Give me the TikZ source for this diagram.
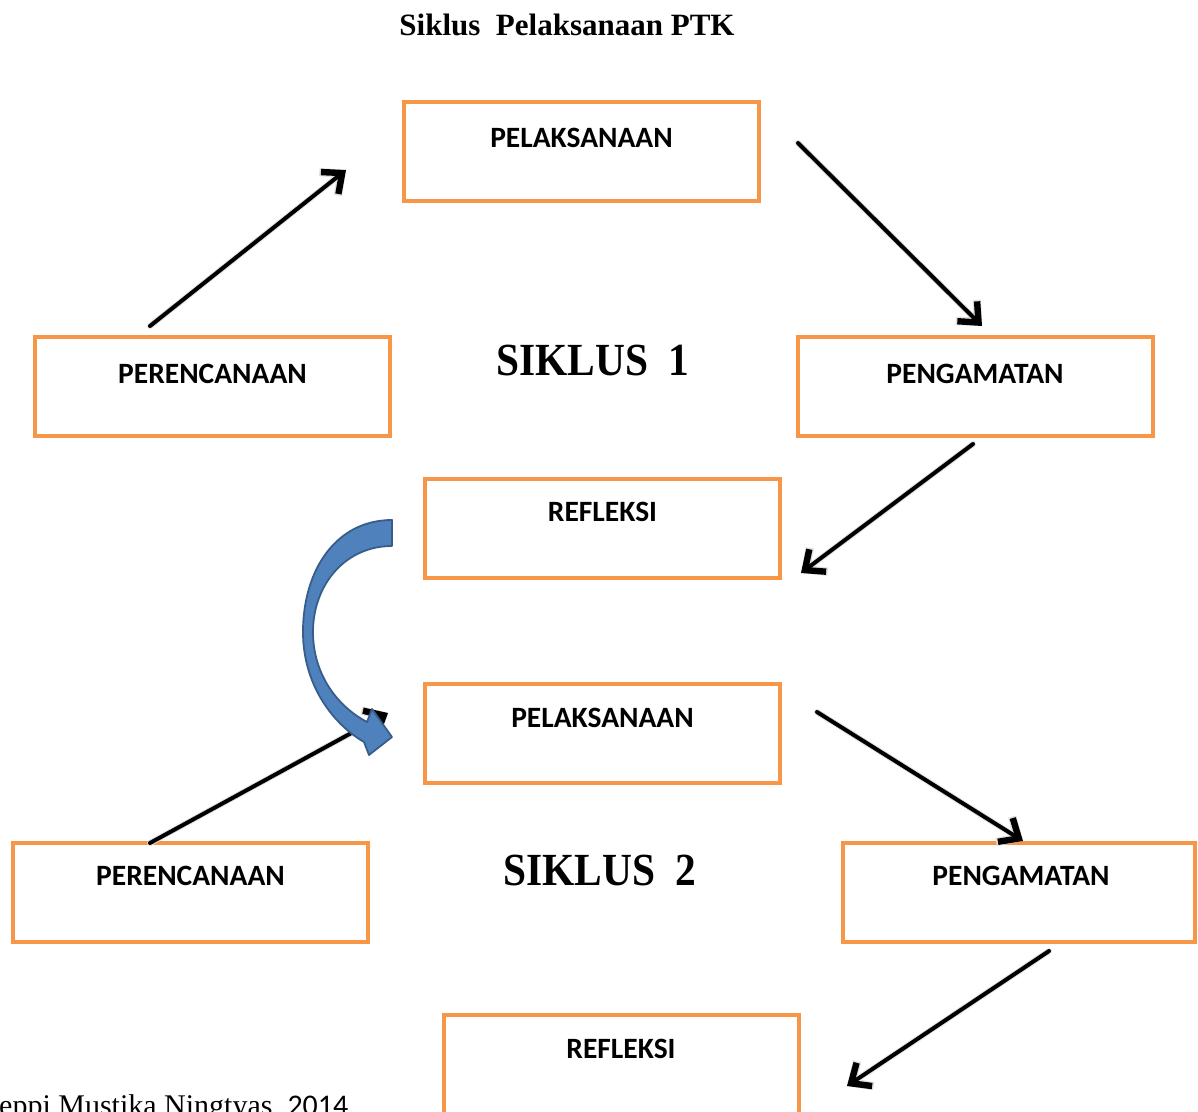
\documentclass[tikz,border=0pt]{standalone}
\usepackage{fontspec}
\setmainfont{Liberation Serif}
\newfontfamily\carl{Carlito}
\usetikzlibrary{arrows.meta}
\definecolor{boxorange}{HTML}{F79646}
\definecolor{arrblue}{HTML}{4F81BD}
\definecolor{arrblueedge}{HTML}{385D8A}
\begin{document}
\begin{tikzpicture}[x=1pt,y=-1pt,
  stagebox/.style={draw=boxorange, line width=4pt, minimum width=355pt, minimum height=99pt, inner sep=0pt},
  stagelabel/.style={font=\carl\bfseries\fontsize{29.5}{32}\selectfont, anchor=base, inner sep=0pt},
  flowarrow/.style={line width=4pt, -{Straight Barb[length=16pt,width=28pt,line width=0pt 1.6]}, line cap=round},
  arrowshadow/.style={line width=6pt, black!12, -{Straight Barb[length=16pt,width=30pt,line width=0pt 1.4]}, line cap=round, shift={(3,3)}},
  cyclelabel/.style={font=\bfseries\fontsize{46}{50}\selectfont, anchor=base, inner sep=0pt, xscale=0.9}
]
\useasboundingbox (0,0) rectangle (1198,1111);

% title
\node[font=\bfseries\fontsize{31}{34}\selectfont, anchor=base, inner sep=0pt] (title) at (567,35) {Siklus\ \ Pelaksanaan PTK};

% cycle 1 boxes
\node[stagebox] (pel1) at (581.5,151.5) {};
\node[stagelabel] (pel1t) at (581.5,147) {PELAKSANAAN};
\node[stagebox] (per1) at (212.5,386.5) {};
\node[stagelabel] (per1t) at (212.5,383) {PERENCANAAN};
\node[stagebox] (pen1) at (975,386.5) {};
\node[stagelabel] (pen1t) at (975,383) {PENGAMATAN};
\node[stagebox] (ref1) at (602.5,528.5) {};
\node[stagelabel] (ref1t) at (602.5,521) {REFLEKSI};
\node[cyclelabel] (sik1) at (593,375) {SIKLUS\ \ 1};

% cycle 2 boxes
\node[stagebox] (pel2) at (602.5,733.5) {};
\node[stagelabel] (pel2t) at (602.5,727) {PELAKSANAAN};
\node[stagebox] (per2) at (190.5,892.5) {};
\node[stagelabel] (per2t) at (190.5,885) {PERENCANAAN};
\node[stagebox, minimum width=352pt] (pen2) at (1019,892.5) {};
\node[stagelabel] (pen2t) at (1021,885) {PENGAMATAN};
\node[stagebox, minimum height=105pt] (ref2) at (621,1067.5) {};
\node[stagelabel] (ref2t) at (621,1058) {REFLEKSI};
\node[cyclelabel] (sik2) at (600,885) {SIKLUS\ \ 2};

% arrow end points
\coordinate (a1s) at (150,326);  \coordinate (a1e) at (346,170);
\coordinate (a2s) at (798,143);  \coordinate (a2e) at (982,326);
\coordinate (a3s) at (973,444);  \coordinate (a3e) at (801,573);
\coordinate (a4s) at (150,843);  \coordinate (a4e) at (388,713);
\coordinate (a5s) at (817,712);  \coordinate (a5e) at (1023,841);
\coordinate (a6s) at (1049,951); \coordinate (a6e) at (847,1086);

% shadows
\foreach \s/\e in {a1s/a1e,a2s/a2e,a3s/a3e,a4s/a4e,a5s/a5e,a6s/a6e}
  \draw[arrowshadow] (\s) -- (\e);
% arrows
\foreach \s/\e in {a1s/a1e,a2s/a2e,a3s/a3e,a4s/a4e,a5s/a5e,a6s/a6e}
  \draw[flowarrow] (\s) -- (\e);

% curved blue arrow
\coordinate (bt1) at (392,520);
\coordinate (bt2) at (392,546);
\coordinate (btip) at (392,737);
\draw[fill=arrblue, draw=arrblueedge, line width=1.8pt, line join=round]
  (bt1) .. controls (336,520) and (303,570) .. (303,632)
        .. controls (303,682) and (330,722) .. (364,742)
  -- (369,755) -- (btip) -- (372,709) -- (367,722)
        .. controls (335,705) and (313,672) .. (313,632)
        .. controls (313,585) and (345,546) .. (bt2) -- cycle;

% credit
\node[anchor=base west, inner sep=0pt, font=\fontsize{30}{34}\selectfont] (credit) at (-1,1115) {eppi Mustika Ningtyas, {\carl 2014}};
\end{tikzpicture}
\end{document}
